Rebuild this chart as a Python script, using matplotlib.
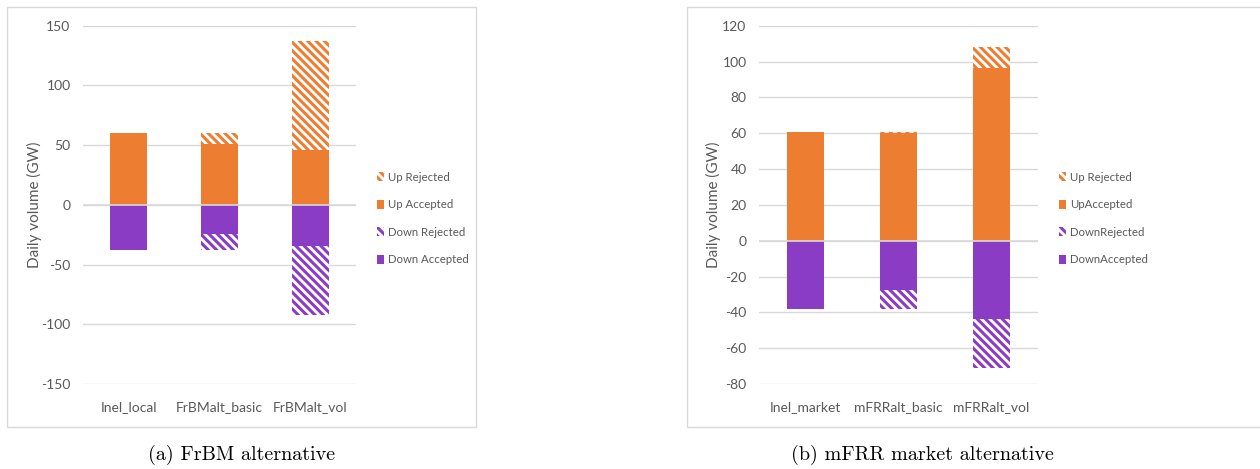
import matplotlib
matplotlib.use('Agg')
import matplotlib.pyplot as plt
from matplotlib.patches import Patch, Rectangle

# Data (GW)
cats_a = ['Inel_local', 'FrBMalt_basic', 'FrBMalt_vol']
up_acc_a = [60.5, 51.0, 46.3]
up_rej_a = [0.0, 9.2, 90.8]
down_acc_a = [-37.7, -24.5, -34.6]
down_rej_a = [0.0, -13.2, -57.9]

cats_b = ['Inel_market', 'mFRRalt_basic', 'mFRRalt_vol']
up_acc_b = [60.5, 60.2, 96.5]
up_rej_b = [0.0, 0.4, 11.7]
down_acc_b = [-38.2, -27.5, -43.5]
down_rej_b = [0.0, -10.7, -27.4]

labels_a = ['Up Rejected', 'Up Accepted', 'Down Rejected', 'Down Accepted']
labels_b = ['Up Rejected', 'UpAccepted', 'DownRejected', 'DownAccepted']

ORANGE = '#ED7D31'
PURPLE = '#8B3CC4'
GRID = '#D9D9D9'
TXT = '#595959'
HATCH = chr(92) * 4  # dense backslash diagonal stripes

plt.rcParams['font.family'] = ['Lato', 'DejaVu Sans']
plt.rcParams['axes.unicode_minus'] = False
plt.rcParams['hatch.linewidth'] = 2.2

W, H = 1260, 469
fig = plt.figure(figsize=(W / 100, H / 100), dpi=100)


def px_axes(x0, x1, y0, y1):
    return fig.add_axes([x0 / W, 1 - y1 / H, (x1 - x0) / W, (y1 - y0) / H])


def draw_panel(ax, cats, up_acc, up_rej, down_acc, down_rej, labels, ylim, step, lab_x, leg_x):
    x = range(len(cats))
    w = 0.4
    ax.bar(x, up_acc, w, color=ORANGE, lw=0, zorder=2)
    ax.bar(x, up_rej, w, bottom=up_acc, facecolor='white', edgecolor=ORANGE,
           hatch=HATCH, lw=0, zorder=2)
    ax.bar(x, down_acc, w, color=PURPLE, lw=0, zorder=2)
    ax.bar(x, down_rej, w, bottom=down_acc, facecolor='white', edgecolor=PURPLE,
           hatch=HATCH, lw=0, zorder=2)
    ax.axhline(0, color=GRID, lw=1.2, zorder=3)

    ax.set_xlim(-0.5, len(cats) - 0.5)
    ax.set_ylim(*ylim)
    ax.set_yticks(range(ylim[0], ylim[1] + 1, step))
    ax.set_xticks(list(x))
    ax.set_xticklabels(cats)
    ax.grid(axis='y', color=GRID, lw=1, zorder=0)
    for s in ax.spines.values():
        s.set_visible(False)
    ax.tick_params(length=0, labelsize=10, colors=TXT)
    ax.tick_params(axis='x', pad=12)
    ax.tick_params(axis='y', pad=9)
    ax.set_ylabel('Daily volume (GW)', fontsize=11, color=TXT)
    ax.yaxis.set_label_coords(lab_x, 0.5)

    handles = [
        Patch(facecolor='white', edgecolor=ORANGE, hatch=HATCH, lw=0),
        Patch(facecolor=ORANGE, lw=0),
        Patch(facecolor='white', edgecolor=PURPLE, hatch=HATCH, lw=0),
        Patch(facecolor=PURPLE, lw=0),
    ]
    leg = ax.legend(handles, labels, loc='center left', bbox_to_anchor=(leg_x, 0.462),
                    frameon=False, fontsize=8.2, handlelength=0.65, handleheight=0.85,
                    handletextpad=0.3, labelspacing=1.45, borderpad=0, borderaxespad=0)
    for t in leg.get_texts():
        t.set_color(TXT)


ax1 = px_axes(83, 356, 25.7, 384)
draw_panel(ax1, cats_a, up_acc_a, up_rej_a, down_acc_a, down_rej_a, labels_a,
           (-150, 150), 50, -0.15, 1.077)

ax2 = px_axes(759, 1038, 25.7, 384)
draw_panel(ax2, cats_b, up_acc_b, up_rej_b, down_acc_b, down_rej_b, labels_b,
           (-80, 120), 20, -0.135, 1.075)

# chart area frames
fig.add_artist(Rectangle((7 / W, 1 - 427 / H), 469 / W, 420 / H, transform=fig.transFigure,
                         facecolor='none', edgecolor=GRID, lw=1))
fig.add_artist(Rectangle((687 / W, 1 - 427 / H), 600 / W, 420 / H, transform=fig.transFigure,
                         facecolor='none', edgecolor=GRID, lw=1, clip_on=False))

# captions
fig.text(242 / W, 1 - 455 / H, '(a) FrBM alternative', ha='center', va='center',
         fontsize=14.5, family='cmr10')
fig.text(922 / W, 1 - 455 / H, '(b) mFRR market alternative', ha='center', va='center',
         fontsize=14.5, family='cmr10')

fig.savefig('out.png', dpi=100)
